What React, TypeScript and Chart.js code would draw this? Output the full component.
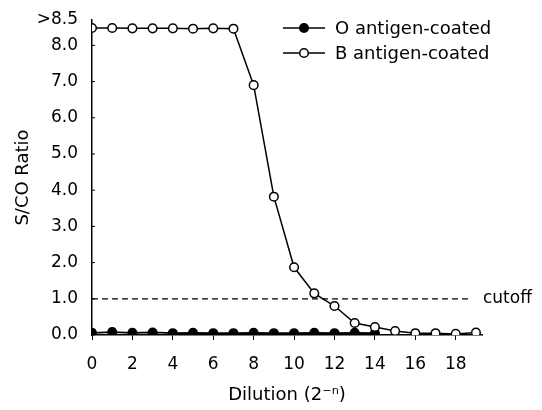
import React, { useEffect, useRef } from "react";
import { Chart, registerables } from "chart.js";

Chart.register(...registerables);

// ---- data ----
const dilutions = [0, 1, 2, 3, 4, 5, 6, 7, 8, 9, 10, 11, 12, 13, 14, 15, 16, 17, 18, 19];
const oAntigenValues = [0.06, 0.08, 0.06, 0.07, 0.05, 0.06, 0.05, 0.05, 0.06, 0.05, 0.05, 0.06, 0.05, 0.06, 0.05];
const bAntigenValues = [8.48, 8.48, 8.47, 8.47, 8.47, 8.46, 8.47, 8.46, 6.9, 3.82, 1.87, 1.15, 0.8, 0.33, 0.22, 0.11, 0.05, 0.05, 0.03, 0.07];
const seriesLabels = ["O antigen-coated", "B antigen-coated"];
const xTickValues = [0, 2, 4, 6, 8, 10, 12, 14, 16, 18];
const yTickValues = [0, 1, 2, 3, 4, 5, 6, 7, 8, 8.7];
const yTickLabels = ["0.0", "1.0", "2.0", "3.0", "4.0", "5.0", "6.0", "7.0", "8.0", ">8.5"];
const cutoffValue = 1.0;
const cutoffEnd = 18.8;
const cutoffLabel = "cutoff";
const xTitle = "Dilution (2\u207B\u207F)";
const yTitle = "S/CO Ratio";

const FONT = '"DejaVu Sans", Verdana, sans-serif';
const FS = 17;
const FS_BIG = 18;

const overlayPlugin = {
  id: "overlay",
  beforeDatasetsDraw(chart: any) {
    const { ctx, chartArea, scales } = chart;
    const y = scales.y.getPixelForValue(cutoffValue);
    const xEnd = scales.x.getPixelForValue(cutoffEnd);
    ctx.save();
    ctx.strokeStyle = "#000";
    ctx.lineWidth = 1.3;
    ctx.setLineDash([6, 4]);
    ctx.beginPath();
    ctx.moveTo(chartArea.left, y);
    ctx.lineTo(xEnd, y);
    ctx.stroke();
    ctx.setLineDash([]);
    // inward y tick marks
    ctx.lineWidth = 1;
    yTickValues.slice(0, -1).forEach((v) => {
      const py = scales.y.getPixelForValue(v);
      ctx.beginPath();
      ctx.moveTo(chartArea.left, py);
      ctx.lineTo(chartArea.left + 3, py);
      ctx.stroke();
    });
    ctx.restore();
  },
  afterDraw(chart: any) {
    const { ctx, chartArea, scales } = chart;
    ctx.save();
    ctx.fillStyle = "#000";
    ctx.textBaseline = "middle";
    ctx.textAlign = "left";
    ctx.font = `${FS}px ${FONT}`;
    const y = scales.y.getPixelForValue(cutoffValue);
    ctx.fillText(cutoffLabel, chartArea.right + 1, y);
    // legend
    ctx.font = `${FS_BIG}px ${FONT}`;
    const lx0 = chartArea.right - 199;
    chart.data.datasets.forEach((ds: any, i: number) => {
      const ly = 28 + i * 25;
      ctx.strokeStyle = "#000";
      ctx.lineWidth = 1.5;
      ctx.beginPath();
      ctx.moveTo(lx0, ly);
      ctx.lineTo(lx0 + 42, ly);
      ctx.stroke();
      ctx.beginPath();
      ctx.arc(lx0 + 21, ly, 4.3, 0, Math.PI * 2);
      ctx.fillStyle = ds.pointBackgroundColor;
      ctx.fill();
      ctx.stroke();
      ctx.fillStyle = "#000";
      ctx.fillText(ds.label, lx0 + 52, ly + 1);
    });
    ctx.restore();
  },
};

export default function App() {
  const canvasRef = useRef<HTMLCanvasElement | null>(null);

  useEffect(() => {
    if (!canvasRef.current) return;
    const chart = new Chart(canvasRef.current, {
      type: "line",
      data: {
        datasets: [
          {
            label: seriesLabels[0],
            data: oAntigenValues.map((v, i) => ({ x: dilutions[i], y: v })),
            borderColor: "#000",
            borderWidth: 1.8,
            pointRadius: 4.3,
            pointBackgroundColor: "#000",
            pointBorderColor: "#000",
            pointBorderWidth: 1.5,
            tension: 0,
            order: 2,
          },
          {
            label: seriesLabels[1],
            data: bAntigenValues.map((v, i) => ({ x: dilutions[i], y: v })),
            borderColor: "#000",
            borderWidth: 1.5,
            pointRadius: 4.3,
            pointBackgroundColor: "#fff",
            pointBorderColor: "#000",
            pointBorderWidth: 1.5,
            tension: 0,
            order: 1,
          },
        ],
      },
      options: {
        animation: false,
        responsive: false,
        maintainAspectRatio: false,
        devicePixelRatio: 1,
        layout: { padding: { top: 20, right: 60, left: 0, bottom: 0 } },
        plugins: {
          legend: { display: false },
          tooltip: { enabled: false },
        },
        scales: {
          x: {
            type: "linear",
            min: 0,
            max: 19.3,
            afterBuildTicks: (scale: any) => {
              scale.ticks = xTickValues.map((v) => ({ value: v }));
            },
            afterFit: (scale: any) => {
              scale.height = 75;
              scale.paddingLeft = 0;
              scale.paddingRight = 0;
            },
            grid: {
              display: true,
              drawOnChartArea: false,
              drawTicks: true,
              tickLength: 5,
              color: "#000",
              lineWidth: 1,
            },
            border: { display: true, color: "#000", width: 1.5 },
            ticks: {
              color: "#000",
              font: { family: FONT, size: FS },
              padding: 14,
              maxRotation: 0,
              autoSkip: false,
              callback: (v: any) => String(v),
            },
            title: {
              display: true,
              text: xTitle,
              color: "#000",
              font: { family: FONT, size: FS_BIG },
              padding: { top: 4, bottom: 4 },
            },
          },
          y: {
            type: "linear",
            min: 0,
            max: 8.7,
            afterBuildTicks: (scale: any) => {
              scale.ticks = yTickValues.map((v) => ({ value: v }));
            },
            afterFit: (scale: any) => {
              scale.width = 92;
              scale.paddingTop = 0;
              scale.paddingBottom = 0;
            },
            grid: { display: false, drawTicks: false },
            border: { display: true, color: "#000", width: 1.5 },
            ticks: {
              color: "#000",
              font: { family: FONT, size: FS },
              padding: 14,
              autoSkip: false,
              callback: (v: any) => {
                const idx = yTickValues.indexOf(Number(v));
                return idx >= 0 ? yTickLabels[idx] : "";
              },
            },
            title: {
              display: true,
              text: yTitle,
              color: "#000",
              font: { family: FONT, size: FS_BIG },
              padding: { top: 13, bottom: 0 },
            },
          },
        },
      },
      plugins: [overlayPlugin],
    } as any);
    return () => chart.destroy();
  }, []);

  return (
    <div style={{ position: "fixed", left: 0, top: 0, width: 542, height: 410, background: "#fff" }}>
      <canvas ref={canvasRef} width={542} height={410} style={{ display: "block" }} />
    </div>
  );
}
